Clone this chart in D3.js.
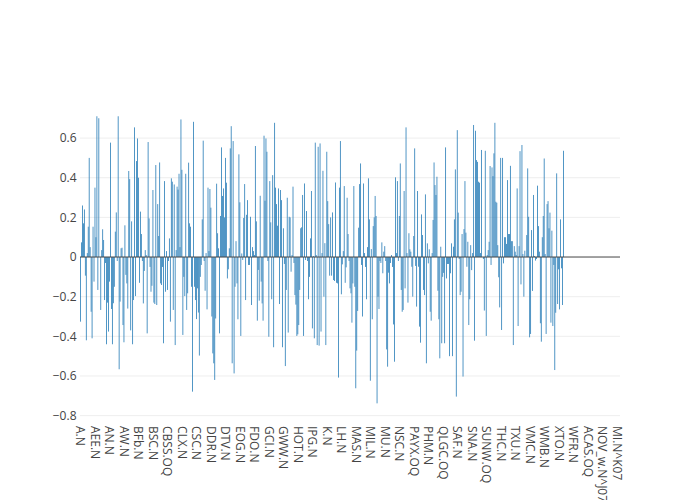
<!DOCTYPE html>
<html>
<head>
<meta charset="utf-8">
<script src="https://cdn.jsdelivr.net/npm/d3@7"></script>
<style>
  html, body { margin: 0; padding: 0; background: #fff; }
  svg { display: block; }
  text { font-family: "Open Sans", "Noto Sans", sans-serif; font-size: 12px; fill: #444; }
</style>
</head>
<body>
<svg id="chart" width="700" height="500"></svg>
<script>
// ---- data ----
const tickLabels = ["A.N","AEE.N","AN.N","AW.N","BFb.N","BSC.N","CBSS.OQ","CLX.N","CSC.N","DDR.N",
  "DTV.N","EOG.N","FDO.N","GCI.N","GWW.N","HOT.N","IPG.N","K.N","LH.N","MAS.N",
  "MIL.N","MU.N","NSC.N","PAYX.OQ","PHM.N","QLGC.OQ","SAF.N","SNA.N","SUNW.OQ","THC.N",
  "TXU.N","VMC.N","WMB.N","XTO.N","WFR.N","ACAS.OQ","NOV_w.N^J07","MI.N^K07"];
const categoryCount = 559;      // total categories on the axis
const labelEvery = 15;          // one tick label per 15 categories
const yTicks = [-0.8, -0.6, -0.4, -0.2, 0, 0.2, 0.4, 0.6];
const yRange = [-0.822, 0.792];

const values = [
// A.N ...
-0.326,0.074,0.26,0.17,0.24,-0.094,-0.42,0.02,0.153,0.5,0.05,-0.276,-0.41,0.153,-0.124,0.35,0.1,0.71,-0.166,0.70,
0.0,-0.267,0.035,0.14,0.086,-0.217,-0.03,-0.44,-0.23,-0.376,-0.124,0.577,-0.262,-0.44,-0.233,-0.15,0.128,0.225,-0.02,0.71,
-0.566,-0.225,0.044,0.047,-0.343,-0.43,0.16,-0.09,-0.133,-0.26,0.434,0.393,-0.37,0.18,-0.44,-0.217,0.654,-0.197,0.484,0.598,
0.4,-0.13,
// BSC.N ...
0.229,0.116,-0.02,-0.234,-0.07,0.035,0.01,-0.385,0.58,0.195,-0.05,-0.175,-0.145,0.338,-0.23,-0.237,0.464,-0.242,0.267,0.106,
0.477,-0.133,-0.141,-0.05,-0.435,0.383,-0.175,0.03,-0.166,-0.02,0.094,-0.326,0.397,0.38,-0.267,0.366,-0.444,0.035,0.355,0.34,
0.42,0.05,0.694,0.44,-0.393,-0.1,-0.197,0.42,-0.267,-0.183,0.476,0.17,0.153,-0.15,-0.679,0.682,-0.15,-0.217,-0.313,-0.158,
-0.28,-0.497,-0.1,
// DDR.N ...
-0.04,0.19,0.587,-0.02,-0.17,0.02,-0.264,0.35,0.03,0.343,0.249,-0.3,-0.486,-0.536,-0.62,-0.31,0.37,0.12,0.044,-0.385,
0.207,0.553,0.308,0.346,0.2,0.5,0.375,-0.108,-0.062,0.044,0.548,0.66,-0.536,0.585,-0.587,-0.15,0.08,-0.133,-0.314,0.518,
0.276,-0.398,0.018,-0.015,0.197,0.368,-0.217,0.213,0.287,-0.04,-0.04,0.203,-0.242,0.05,0.03,0.01,0.56,0.18,-0.321,-0.065,
-0.22,0.309,-0.124,
// GCI.N ...
-0.234,-0.321,0.612,0.284,0.598,0.531,-0.02,-0.402,0.383,0.175,-0.213,0.413,-0.455,0.677,0.35,0.267,0.158,0.346,-0.237,0.338,
0.287,-0.455,0.145,-0.035,-0.55,-0.166,0.299,-0.381,0.203,0.2,-0.074,0.01,0.355,-0.03,-0.192,-0.24,-0.398,-0.39,-0.343,-0.166,
0.145,0.15,0.313,-0.398,0.371,-0.015,0.232,-0.02,-0.213,-0.1,0.094,0.333,-0.36,0.005,-0.41,0.577,0.01,-0.444,0.556,-0.447,
0.573,-0.376,0.02,
// LH.N ...
0.435,-0.2,0.07,-0.444,0.531,0.282,0.166,-0.094,0.2,-0.094,0.225,-0.116,-0.121,0.376,-0.13,-0.133,-0.608,0.35,0.585,-0.188,
-0.037,0.03,0.358,-0.13,-0.052,0.299,0.116,-0.02,-0.158,-0.183,-0.331,-0.133,0.358,-0.15,-0.662,-0.472,-0.272,0.148,0.368,0.472,
-0.04,-0.3,0.371,0.02,-0.05,-0.213,0.05,0.397,0.19,-0.624,0.04,-0.314,0.156,0.2,0.308,0.207,-0.738,-0.2,-0.262,-0.02,
-0.03,0.074,-0.082,
// NSC.N ...
0.027,0.055,-0.02,-0.466,-0.553,-0.079,-0.133,-0.03,0.01,-0.05,-0.34,-0.528,0.402,0.02,0.383,-0.02,0.207,0.472,-0.166,-0.276,
-0.267,0.333,-0.158,0.654,0.02,-0.23,0.12,0.039,0.027,-0.049,-0.2,0.106,0.548,-0.045,-0.25,0.333,-0.049,-0.351,-0.432,0.215,
0.111,-0.166,-0.192,0.316,-0.536,0.069,-0.032,0.039,-0.276,-0.321,0.02,0.187,0.477,0.363,0.313,0.405,-0.17,-0.314,-0.511,0.052,
-0.435,-0.1,-0.08,
// SAF.N ...
-0.435,0.553,-0.108,-0.035,-0.035,-0.5,-0.082,0.069,-0.5,0.052,0.19,0.442,-0.704,0.64,0.224,-0.01,-0.192,-0.175,0.116,-0.603,
0.141,0.383,0.123,-0.049,0.077,-0.343,-0.213,0.06,-0.066,0.02,0.666,-0.422,0.637,0.489,0.48,0.38,0.375,0.02,0.54,0.0,
-0.01,-0.27,0.536,-0.398,0.01,0.035,0.077,0.459,-0.04,0.452,0.408,0.523,0.677,0.279,0.274,0.06,-0.102,-0.254,0.5,-0.368,
0.5,-0.032,0.1,
// VMC.N ... XTO.N
0.1,0.066,0.388,0.116,0.116,0.46,0.08,0.08,-0.444,0.055,0.027,0.01,0.346,-0.348,0.055,0.534,-0.138,0.565,0.015,-0.2,
0.032,0.0,0.111,0.447,0.203,-0.405,-0.388,0.136,-0.171,0.313,0.005,-0.018,-0.01,0.36,0.156,0.027,-0.334,-0.427,0.1,0.207,
0.497,0.015,-0.388,0.267,0.282,0.145,0.224,-0.331,0.133,-0.348,-0.04,-0.57,-0.281,0.422,-0.237,-0.062,-0.264,0.19,-0.057,-0.242,
0.536
];

// ---- layout ----
const W = 700, H = 500;
const margin = {top: 100, right: 80, bottom: 80, left: 80};
const svg = d3.select("#chart");
svg.append("rect").attr("width", W).attr("height", H).attr("fill", "#fff");

const x = d3.scaleBand()
  .domain(d3.range(categoryCount))
  .range([margin.left, W - margin.right])
  .paddingInner(0.2)
  .paddingOuter(0.1);
const step = x.step();

const y = d3.scaleLinear().domain(yRange).range([H - margin.bottom, margin.top]);

// grid
svg.append("g").selectAll("line").data(yTicks.filter(t => t !== 0)).join("line")
  .attr("x1", margin.left).attr("x2", W - margin.right)
  .attr("y1", d => y(d)).attr("y2", d => y(d))
  .attr("stroke", "#eee").attr("stroke-width", 1);

// bars
svg.append("g").selectAll("rect").data(values).join("rect")
  .attr("x", (d, i) => x(i))
  .attr("width", x.bandwidth())
  .attr("y", d => y(Math.max(0, d)))
  .attr("height", d => Math.abs(y(d) - y(0)))
  .attr("fill", "#1f77b4");

// zero line
svg.append("line")
  .attr("x1", margin.left).attr("x2", W - margin.right)
  .attr("y1", y(0)).attr("y2", y(0))
  .attr("stroke", "#444").attr("stroke-width", 1);

// y axis labels
const fmt = d => (d < 0 ? "\u2212" : "") + (d === 0 ? "0" : Math.abs(d).toFixed(1));
const yAxis = d3.axisLeft(y).tickValues(yTicks).tickSize(0).tickPadding(3).tickFormat(fmt);
const gy = svg.append("g").attr("transform", `translate(${margin.left - 0.5},0)`).call(yAxis);
gy.select(".domain").remove();
gy.selectAll("text").attr("font-family", null).attr("font-size", null).attr("fill", "#444");

// x axis labels (rotated)
const labelIdx = tickLabels.map((_, k) => k * labelEvery);
const xAxis = d3.axisBottom(x).tickValues(labelIdx).tickSize(0)
  .tickFormat((d, k) => tickLabels[k]);
const gx = svg.append("g").attr("transform", `translate(0,${H - margin.bottom})`).call(xAxis);
gx.select(".domain").remove();
gx.selectAll("text")
  .attr("font-family", null).attr("font-size", null).attr("fill", "#444")
  .attr("transform", "rotate(90)")
  .attr("y", 0).attr("x", 6)
  .attr("dy", "0.35em")
  .attr("text-anchor", "start");
</script>
</body>
</html>
